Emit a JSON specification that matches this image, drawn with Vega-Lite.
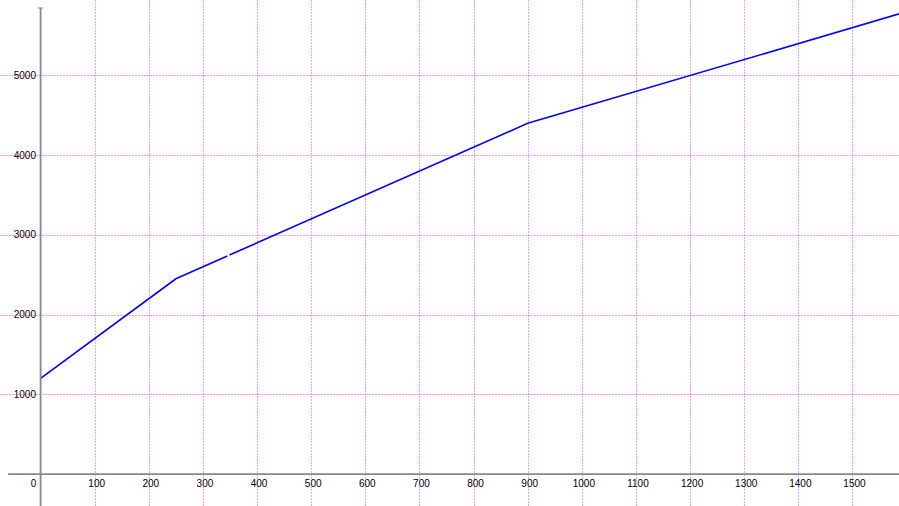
{
  "$schema": "https://vega.github.io/schema/vega-lite/v6.json",
  "width": 899,
  "height": 506,
  "autosize": "none",
  "padding": 0,
  "background": "white",
  "config": {
    "view": {"stroke": null},
    "axis": {
      "domain": false, "ticks": false, "grid": true,
      "gridColor": "#ff33ff", "gridDash": [1, 2], "gridWidth": 1, "gridOpacity": 1, "gridCap": "butt",
      "labelFont": "Liberation Sans", "labelFontSize": 10, "labelColor": "#000000",
      "title": null, "labelFlush": false, "format": "d"
    }
  },
  "datasets": {
    "line": [
      {"seg": "a", "x": 0, "y": 1200},
      {"seg": "a", "x": 250, "y": 2450},
      {"seg": "a", "x": 345, "y": 2735},
      {"seg": "b", "x": 349, "y": 2747},
      {"seg": "b", "x": 900, "y": 4400},
      {"seg": "b", "x": 1600, "y": 5800}
    ],
    "vaxis": [{"x": 0, "y": -500, "y2": 5847}],
    "haxis": [{"x": -60, "x2": 1700, "y": 0}],
    "ticks": [{"x": -5, "x2": 5, "y": 5847}],
    "zero": [{"x": 0, "y": 0, "t": "0"}]
  },
  "encoding": {
    "x": {
      "field": "x", "type": "quantitative",
      "scale": {"domain": [-75, 1586], "nice": false, "zero": false},
      "axis": {
        "values": [100, 200, 300, 400, 500, 600, 700, 800, 900, 1000, 1100, 1200, 1300, 1400, 1500],
        "orient": "bottom", "offset": -32, "labelPadding": 4, "labelOffset": 1.5
      }
    },
    "y": {
      "field": "y", "type": "quantitative",
      "scale": {"domain": [-401, 5947], "nice": false, "zero": false},
      "axis": {
        "values": [1000, 2000, 3000, 4000, 5000],
        "orient": "left", "offset": -40.5, "labelPadding": 5
      }
    }
  },
  "layer": [
    {
      "data": {"name": "line"},
      "mark": {"type": "line", "color": "#0000ff", "strokeWidth": 1.6, "clip": true},
      "encoding": {"detail": {"field": "seg"}}
    },
    {
      "data": {"name": "vaxis"},
      "mark": {"type": "rule", "color": "#888888", "strokeWidth": 1.8, "clip": true},
      "encoding": {"y2": {"field": "y2"}}
    },
    {
      "data": {"name": "haxis"},
      "mark": {"type": "rule", "color": "#888888", "strokeWidth": 1.8, "clip": true},
      "encoding": {"x2": {"field": "x2"}}
    },
    {
      "data": {"name": "ticks"},
      "mark": {"type": "rule", "color": "#888888", "strokeWidth": 1, "clip": true},
      "encoding": {"x2": {"field": "x2"}}
    },
    {
      "data": {"name": "zero"},
      "mark": {"type": "text", "font": "Liberation Sans", "fontSize": 10, "color": "#000000", "dx": -7, "dy": 10, "align": "center"},
      "encoding": {"text": {"field": "t"}}
    }
  ]
}
